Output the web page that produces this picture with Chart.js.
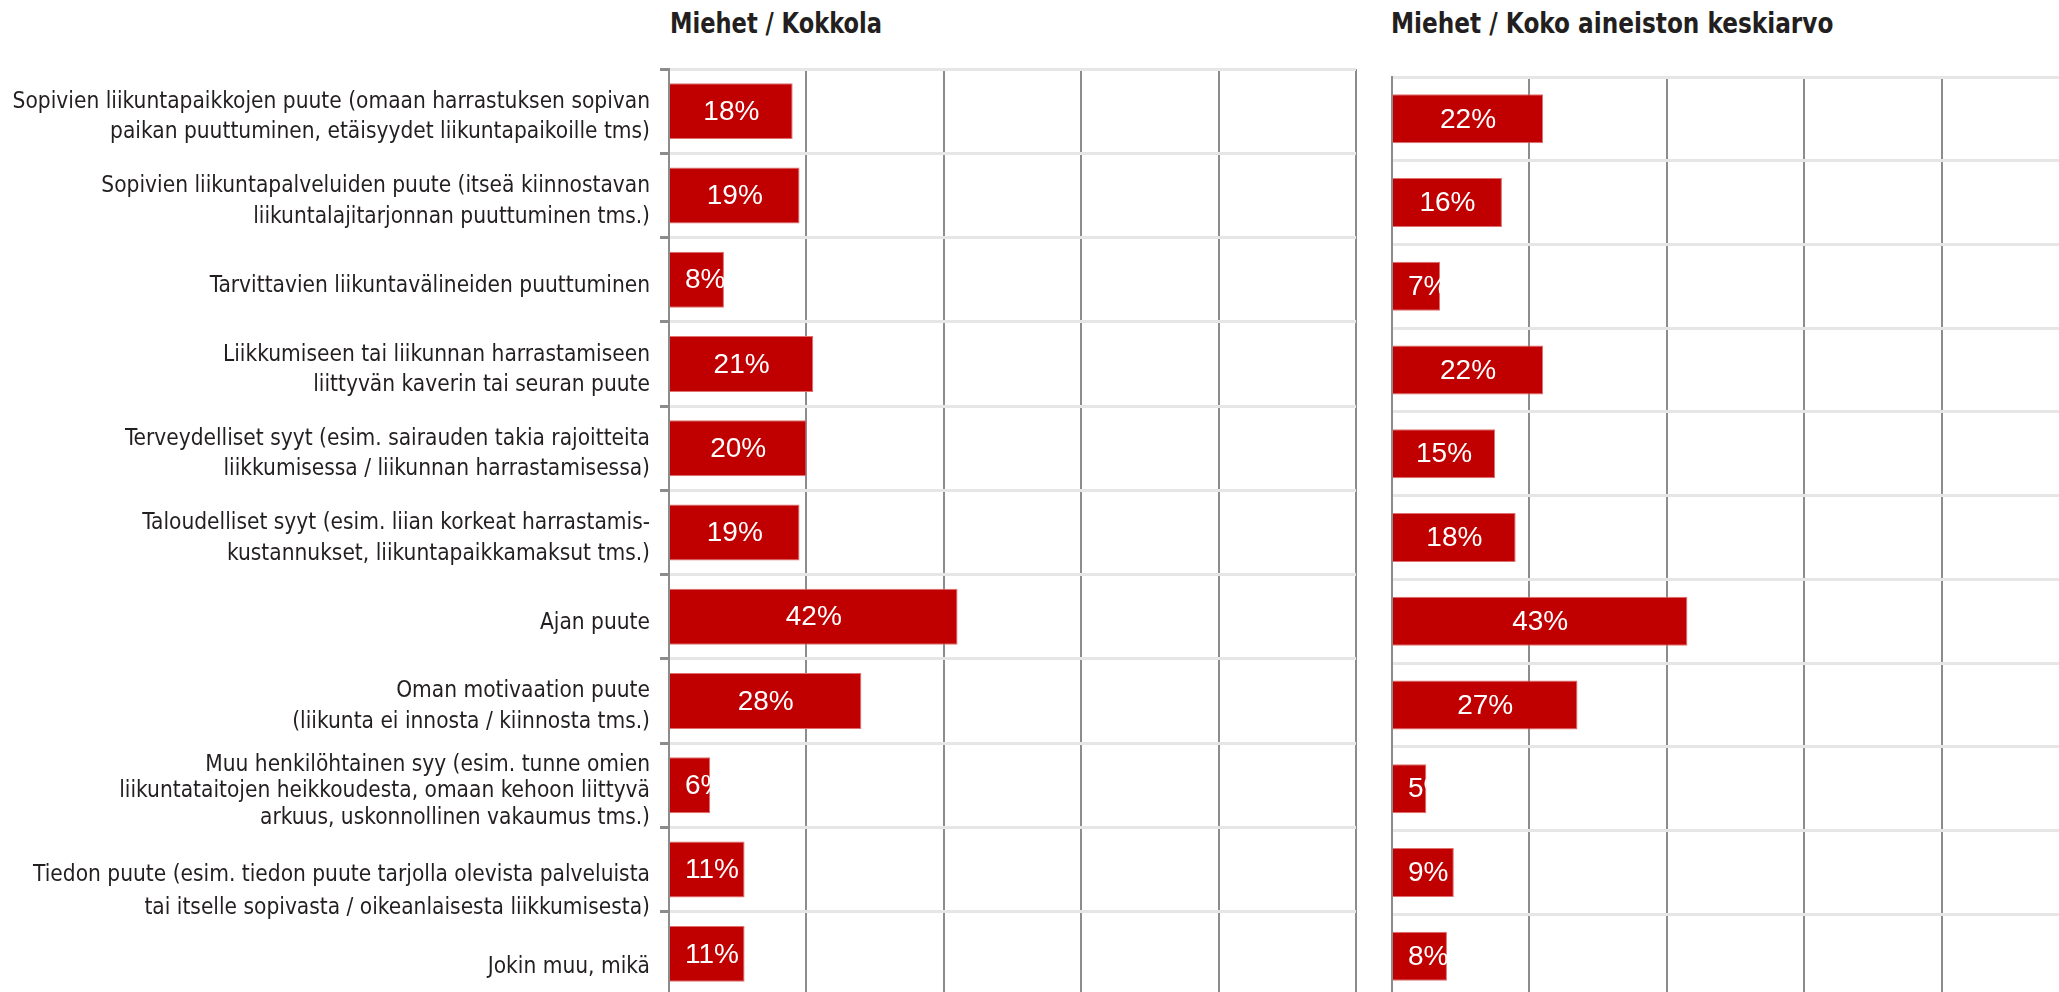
<!DOCTYPE html>
<html lang="fi">
<head>
<meta charset="UTF-8">
<title>Liikunnan esteet - Miehet</title>
<script src="https://cdn.jsdelivr.net/npm/chart.js"></script>
<style>
  html, body { margin: 0; padding: 0; background: #fff; overflow: hidden; width: 2059px; height: 992px; position: relative; }
  .title { position: absolute; top: 6px; font-weight: bold; font-size: 29px; color: #231f20; white-space: nowrap;
           transform-origin: 0 0;
           font-family: 'Liberation Sans Narrow', 'DejaVu Sans Condensed', 'Roboto Condensed', 'Liberation Sans', sans-serif; }
  .box { position: absolute; top: 0; height: 1000px; }
</style>
</head>
<body>
<div class="title" style="left:670px; transform:scaleX(0.865)">Miehet / Kokkola</div>
<div class="title" style="left:1391px; transform:scaleX(0.89)">Miehet / Koko aineiston keskiarvo</div>
<div class="box" style="left:0; width:1362px"><canvas id="kokkolaChart"></canvas></div>
<div class="box" style="left:1378px; width:705px"><canvas id="kokoChart"></canvas></div>

<script>
// categories (multi-line labels as arrays; a leading "" nudges a label down like in the original)
const categories = [
  ["Sopivien liikuntapaikkojen puute (omaan harrastuksen sopivan", "paikan puuttuminen, etäisyydet liikuntapaikoille tms)"],
  ["Sopivien liikuntapalveluiden puute (itseä kiinnostavan", "liikuntalajitarjonnan puuttuminen tms.)"],
  "Tarvittavien liikuntavälineiden puuttuminen",
  ["Liikkumiseen tai liikunnan harrastamiseen", "liittyvän kaverin tai seuran puute"],
  ["Terveydelliset syyt (esim. sairauden takia rajoitteita", "liikkumisessa / liikunnan harrastamisessa)"],
  ["Taloudelliset syyt (esim. liian korkeat harrastamis-", "kustannukset, liikuntapaikkamaksut tms.)"],
  "Ajan puute",
  ["Oman motivaation puute", "(liikunta ei innosta / kiinnosta tms.)"],
  ["Muu henkilöhtainen syy (esim. tunne omien", "liikuntataitojen heikkoudesta, omaan kehoon liittyvä", "arkuus, uskonnollinen vakaumus tms.)"],
  ["", "Tiedon puute (esim. tiedon puute tarjolla olevista palveluista", "tai itselle sopivasta / oikeanlaisesta liikkumisesta)"],
  ["", "Jokin muu, mikä"]
];

// percentages
const kokkolaValues = [18, 19, 8, 21, 20, 19, 42, 28, 6, 11, 11];
const kokoValues    = [22, 16, 7, 22, 15, 18, 43, 27, 5, 9, 8];

// x grid positions (no labels shown)
const xTickValues = [0, 20, 40, 60, 80, 100];

const labelFont = "'Liberation Sans Narrow', 'DejaVu Sans Condensed', 'Roboto Condensed', 'Liberation Sans', sans-serif";
const barRed = '#c00000';
const axisGray = '#8c8c8c';
const lightGray = '#e6e6e6';

// line heights for the category labels (px)
const labelLineHeights = [30.5, 30.5, 30, 30, 30.5, 30.5, 30, 31, 26.5, 33, 14];

const barLabels = {
  id: 'barLabels',
  afterDatasetsDraw(chart) {
    const ctx = chart.ctx;
    const meta = chart.getDatasetMeta(0);
    const values = chart.data.datasets[0].data;
    ctx.save();
    ctx.font = "28px 'Liberation Sans', Arial, sans-serif";
    ctx.fillStyle = '#ffffff';
    ctx.textBaseline = 'middle';
    ctx.textAlign = 'left';
    meta.data.forEach((bar, i) => {
      const p = bar.getProps(['x', 'y', 'base', 'height'], true);
      const text = values[i] + '%';
      const w = ctx.measureText(text).width;
      const left = Math.max((p.x + p.base) / 2 - w / 2, p.base + 15);
      ctx.save();
      ctx.beginPath();
      ctx.rect(p.base, p.y - p.height / 2, p.x - p.base, p.height);
      ctx.clip();
      ctx.fillText(text, left, p.y + 1);
      ctx.restore();
    });
    ctx.restore();
  }
};

function makeChart(id, values, opts) {
  return new Chart(document.getElementById(id), {
    type: 'bar',
    data: {
      labels: categories,
      datasets: [{
        data: values,
        backgroundColor: barRed,
        borderColor: '#e07070',
        borderWidth: { top: 1, right: 1, bottom: 1, left: 0 },
        borderSkipped: false,
        barPercentage: opts.barPct,
        categoryPercentage: 1
      }]
    },
    options: {
      indexAxis: 'y',
      responsive: true,
      maintainAspectRatio: false,
      animation: false,
      layout: { padding: opts.padding },
      plugins: { legend: { display: false }, tooltip: { enabled: false } },
      scales: {
        x: {
          min: 0,
          max: 100,
          afterBuildTicks: (scale) => { scale.ticks = xTickValues.map(v => ({ value: v })); },
          afterFit: (scale) => { scale.height = 0; scale.paddingLeft = 0; scale.paddingRight = 0; },
          ticks: { display: false },
          grid: { color: axisGray, lineWidth: 2, drawTicks: false },
          border: { display: false }
        },
        y: {
          afterFit: (scale) => {
            scale.width = opts.axisWidth;
            scale.paddingTop = 0;
            scale.paddingBottom = 0;
          },
          ticks: {
            display: opts.showLabels,
            autoSkip: false,
            color: '#231f20',
            padding: 10,
            labelOffset: 6,
            font: (c) => ({ family: labelFont, size: 22.5, lineHeight: labelLineHeights[c.index] / 22.5 })
          },
          grid: {
            color: lightGray,
            lineWidth: 3,
            tickColor: axisGray,
            tickLength: opts.showLabels ? 9 : 0,
            drawTicks: opts.showLabels
          },
          border: { color: axisGray, width: 2 }
        }
      }
    },
    plugins: [barLabels]
  });
}

makeChart('kokkolaChart', kokkolaValues, {
  barPct: 0.664,
  axisWidth: 669,
  showLabels: true,
  padding: { top: 69, right: 6, bottom: 4, left: 0 }
});

makeChart('kokoChart', kokoValues, {
  barPct: 0.585,
  axisWidth: 14,
  showLabels: false,
  padding: { top: 77, right: 4, bottom: 2, left: 0 }
});
</script>
</body>
</html>
